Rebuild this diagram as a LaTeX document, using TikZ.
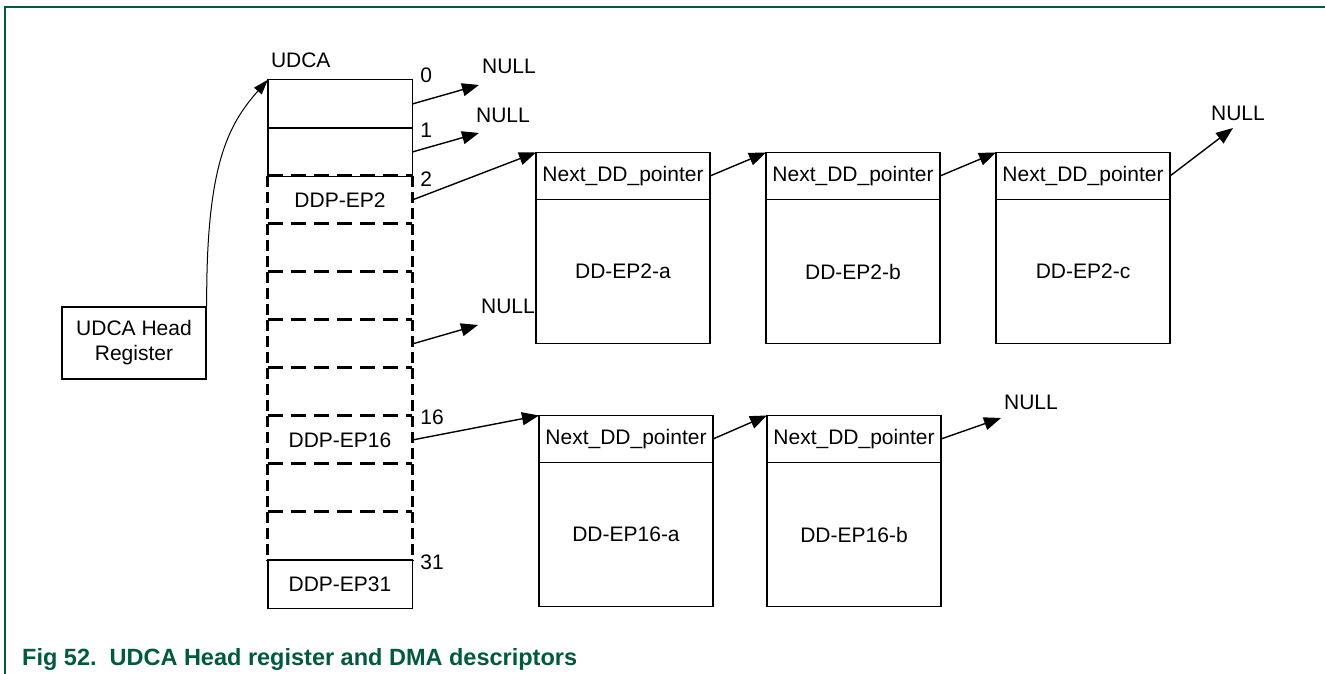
\documentclass[tikz,border=0pt]{standalone}
\usepackage{fontspec}
\setmainfont{Liberation Sans}
\usetikzlibrary{arrows.meta, positioning}
\definecolor{nxpgreen}{RGB}{0,90,62}

\begin{document}
\begin{tikzpicture}[x=1pt, y=-1pt,
	every node/.style={font=\fontsize{21}{25}\selectfont, inner sep=0pt},
	slot/.style={minimum width=144pt, minimum height=48pt},
	ddhead/.style={draw, line width=1.4pt, outer sep=0pt, minimum width=174pt, minimum height=47pt},
	ddbody/.style={draw, line width=1.4pt, outer sep=0pt, minimum width=174pt, minimum height=144pt, below=0pt of #1},
	ptr/.style={line width=1.4pt, -{Triangle[length=17pt, width=13pt]}},
	hdash/.style={line width=3pt, dash pattern=on 15pt off 8pt},
	vdash/.style={line width=3pt, dash pattern=on 11pt off 5pt}]
	% Frame and caption:
	\useasboundingbox (0,0) rectangle (1325,674);
	\draw[nxpgreen, line width=1.3pt] (5,674) -- (5,7) -- (1325,7);
	\node[anchor=base west, text=nxpgreen, font=\fontsize{23.5}{27}\selectfont\bfseries] (caption) at (22,665) {Fig 52.\hspace{13pt}UDCA Head register and DMA descriptors};

	% UDCA array:
	\foreach \k in {0,...,10}
		\node[slot] (s\k) at (340, 104+48*\k) {};
	\draw[line width=1.4pt] (s0.north west) rectangle (s1.south east);
	\draw[line width=1.4pt] (s0.south west) -- (s0.south east);
	\draw[line width=1.4pt] (s10.north west) rectangle (s10.south east);
	\foreach \k in {2,...,9} {
		\draw[vdash] (s\k.north west) -- (s\k.south west);
		\draw[vdash] (s\k.north east) -- (s\k.south east);
		\draw[hdash] (s\k.north west) -- (s\k.north east);
	}
	\node (ep2) at (s2) {DDP-EP2};
	\node (ep16) at (s7) {DDP-EP16};
	\node (ep31) at (s10) {DDP-EP31};
	\foreach \k/\t/\dy in {0/0/5, 1/1/-2, 2/2/-3, 7/16/-1, 10/31/-2}
		\node[anchor=west] (i\k) at ([xshift=8pt, yshift=\dy pt]s\k.north east) {\t};
	\node[anchor=south west] (udca) at ([xshift=3pt, yshift=12pt]s0.north west) {UDCA};

	% Head register:
	\node[draw, line width=1.4pt, minimum width=144pt, minimum height=72pt, align=center] (reg) at (134,343) {UDCA Head\\Register};
	\draw[line width=1pt, -{Triangle[length=15pt, width=10pt]}] (reg.north east) .. controls (206,165) and (228,125) .. (s0.north west);

	% Descriptor chains:
	\node[ddhead] (ha) at (623,176) {Next\_DD\_pointer};
	\node[ddhead, right=56pt of ha] (hb) {Next\_DD\_pointer};
	\node[ddhead, right=56pt of hb] (hc) {Next\_DD\_pointer};
	\node[ddbody=ha] (ba) {DD-EP2-a};
	\node[ddbody=hb] (bb) {DD-EP2-b};
	\node[ddbody=hc] (bc) {DD-EP2-c};
	\node[ddhead] (qa) at (626,439) {Next\_DD\_pointer};
	\node[ddhead, right=54pt of qa] (qb) {Next\_DD\_pointer};
	\node[ddbody=qa] (qa body) {DD-EP16-a};
	\node[ddbody=qb] (qb body) {DD-EP16-b};

	% NULL ends:
	\node (n0) at (509,66) {NULL};
	\node (n1) at (503,115) {NULL};
	\node (n5) at (508,306) {NULL};
	\node (nc) at (1238,113) {NULL};
	\node (nq) at (1031,402) {NULL};
	\coordinate (t0) at (479,85);
	\coordinate (t1) at (479,133);
	\coordinate (t5) at (478,325);
	\coordinate (tc) at (1233,128);
	\coordinate (tq) at (1001,418);

	% Pointers:
	\draw[ptr] (s0.east) -- (t0);
	\draw[ptr] (s1.east) -- (t1);
	\draw[ptr] (s2.east) -- (ha.north west);
	\draw[ptr] (s5.east) -- (t5);
	\draw[ptr] (s7.east) -- (qa.north west);
	\draw[ptr] (ha.east) -- (hb.north west);
	\draw[ptr] (hb.east) -- (hc.north west);
	\draw[ptr] (hc.east) -- (tc);
	\draw[ptr] (qa.east) -- (qb.north west);
	\draw[ptr] (qb.east) -- (tq);
\end{tikzpicture}
\end{document}
